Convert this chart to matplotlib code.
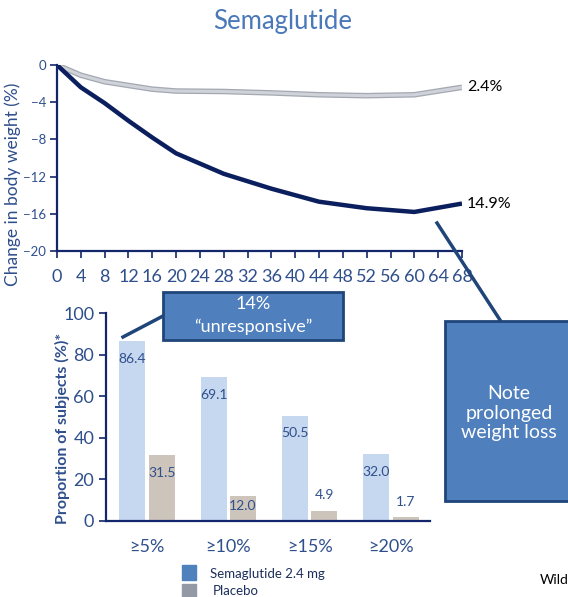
import matplotlib
matplotlib.use("Agg")
import matplotlib.pyplot as plt
from matplotlib.patches import Rectangle
from matplotlib.lines import Line2D

plt.rcParams["font.family"] = ["Lato", "DejaVu Sans"]

# weight change over time (weeks)
weeks = [0, 4, 8, 12, 16, 20, 28, 36, 44, 52, 60, 68]
sema_change = [0, -2.4, -4.1, -6.0, -7.8, -9.5, -11.7, -13.3, -14.7, -15.4, -15.8, -14.9]
placebo_change = [0, -1.1, -1.8, -2.2, -2.6, -2.8, -2.85, -3.0, -3.2, -3.3, -3.2, -2.4]

# responder proportions
thresholds = ["≥5%", "≥10%", "≥15%", "≥20%"]
sema_pct = [86.4, 69.1, 50.5, 32.0]
placebo_pct = [31.5, 12.0, 4.9, 1.7]

W, H = 568, 597
NAVY = "#13266b"
TXT = "#2f4f8c"
BOX = "#4f7fbd"
BOX_EDGE = "#1f4579"

fig = plt.figure(figsize=(W / 100, H / 100), dpi=100)


def fx(px):
    return px / W


def fy(py):
    return 1 - py / H


def ax_rect(x0, y0, x1, y1):
    return [fx(x0), fy(y1), fx(x1) - fx(x0), fy(y0) - fy(y1)]


def style_axes(ax):
    for s in ("top", "right"):
        ax.spines[s].set_visible(False)
    for s in ("left", "bottom"):
        ax.spines[s].set_color(NAVY)
        ax.spines[s].set_linewidth(1.6)
    ax.tick_params(colors=NAVY, labelcolor=TXT, width=1.2, length=5)


fig.text(fx(283), fy(22), "Semaglutide", ha="center", va="center",
         fontsize=18.5, color="#4a78b8")

# line chart
ax1 = fig.add_axes(ax_rect(57, 65, 462, 251))
style_axes(ax1)
ax1.plot(weeks, placebo_change, color="#a3a8b2", lw=4, solid_capstyle="butt")
ax1.plot(weeks, placebo_change, color="#cfd2d8", lw=2.2, solid_capstyle="butt")
ax1.plot(weeks, sema_change, color="#0b1f5e", lw=3.2, solid_capstyle="butt")
ax1.set_xlim(0, 68)
ax1.set_ylim(-20, 0)
ax1.set_xticks(range(0, 69, 4))
ax1.set_yticks(range(-20, 1, 4))
ax1.tick_params(axis="x", labelsize=13, pad=8)
ax1.tick_params(axis="y", labelsize=9.5, pad=3)
ax1.text(68.8, placebo_change[-1], f"{abs(placebo_change[-1]):.1f}%",
         fontsize=11.5, va="center", color="black", clip_on=False)
ax1.text(68.8, sema_change[-1], f"{abs(sema_change[-1]):.1f}%",
         fontsize=11.5, va="center", color="black", clip_on=False)
fig.text(fx(13), fy(184), "Change in body weight (%)", rotation=90,
         ha="center", va="center", fontsize=12.5, color=TXT)

# bar chart
ax2 = fig.add_axes(ax_rect(106, 313, 430, 520.7))
style_axes(ax2)
xs = range(len(thresholds))
bw = 0.32
off = 0.18
ax2.bar([x - off for x in xs], sema_pct, width=bw, color="#c6d8f0")
ax2.bar([x + off for x in xs], placebo_pct, width=bw, color="#cdc4bc")
ax2.set_xlim(-0.505, 3.48)
ax2.set_ylim(0, 100)
ax2.set_yticks(range(0, 101, 20))
ax2.set_xticks(list(xs))
ax2.set_xticklabels(thresholds)
ax2.tick_params(axis="x", length=0, labelsize=13, pad=13)
ax2.tick_params(axis="y", labelsize=13)


def label_y(v):
    if v > 20:
        return v - 8.5
    if v > 10:
        return v - 5
    return v + 7.5


for x, v in zip(xs, sema_pct):
    ax2.text(x - off, label_y(v), f"{v:.1f}", ha="center", va="center",
             fontsize=10, color=TXT)
for x, v in zip(xs, placebo_pct):
    ax2.text(x + off, label_y(v), f"{v:.1f}", ha="center", va="center",
             fontsize=10, color=TXT)
fig.text(fx(62), fy(428), "Proportion of subjects (%)*", rotation=90,
         ha="center", va="center", fontsize=11.5, fontweight="bold", color=TXT)

# legend
fig.patches.append(Rectangle((fx(182), fy(580)), fx(14), 15 / H,
                             transform=fig.transFigure, color="#4f81bd"))
fig.patches.append(Rectangle((fx(182), fy(599)), fx(14), 15 / H,
                             transform=fig.transFigure, color="#939aa6"))
fig.text(fx(210), fy(574), "Semaglutide 2.4 mg", fontsize=9.5, va="center",
         color="#1c2f5c")
fig.text(fx(213), fy(591), "Placebo", fontsize=9.5, va="center", color="#1c2f5c")
fig.text(fx(540), fy(580), "Wild", fontsize=10, va="center", color="black")

# callouts
fig.lines.append(Line2D([fx(123), fx(163)], [fy(337), fy(316)],
                        transform=fig.transFigure, color=BOX_EDGE, lw=2.5,
                        zorder=5))
fig.patches.append(Rectangle((fx(163), fy(340)), fx(180), 48 / H,
                             transform=fig.transFigure, facecolor=BOX,
                             edgecolor=BOX_EDGE, lw=2, zorder=5))
fig.text(fx(253), fy(304), "14%", ha="center", va="center", fontsize=13,
         color="white", zorder=6)
fig.text(fx(253), fy(327), "\u201cunresponsive\u201d", ha="center",
         va="center", fontsize=13, color="white", zorder=6)

fig.lines.append(Line2D([fx(437), fx(500)], [fy(223), fy(320)],
                        transform=fig.transFigure, color=BOX_EDGE, lw=2.5,
                        zorder=5))
fig.patches.append(Rectangle((fx(445), fy(501)), fx(140), 180 / H,
                             transform=fig.transFigure, facecolor=BOX,
                             edgecolor=BOX_EDGE, lw=2, zorder=5))
fig.text(fx(509), fy(413), "Note\nprolonged\nweight loss", ha="center",
         va="center", fontsize=14, color="white", linespacing=1.2, zorder=6)

fig.savefig("out.png", dpi=100)
